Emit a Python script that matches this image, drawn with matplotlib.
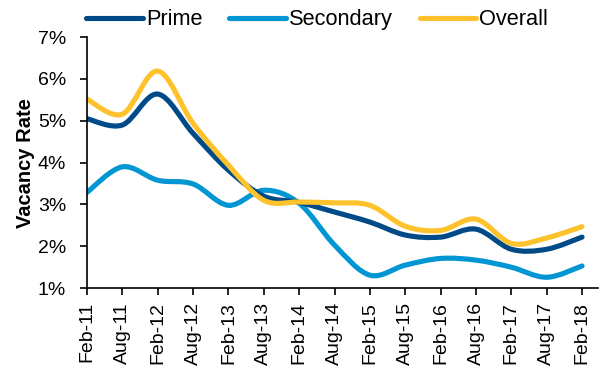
import numpy as np
import matplotlib
matplotlib.use("Agg")
import matplotlib.pyplot as plt
from matplotlib.path import Path
from matplotlib.patches import PathPatch
from matplotlib.lines import Line2D
from matplotlib.ticker import FuncFormatter

plt.rcParams["font.family"] = ["Liberation Sans", "DejaVu Sans"]

periods = ["Feb-11", "Aug-11", "Feb-12", "Aug-12", "Feb-13", "Aug-13", "Feb-14",
           "Aug-14", "Feb-15", "Aug-15", "Feb-16", "Aug-16", "Feb-17", "Aug-17",
           "Feb-18"]
prime = [5.05, 4.90, 5.64, 4.70, 3.82, 3.20, 3.05, 2.82, 2.58, 2.27, 2.22, 2.41,
         1.93, 1.93, 2.22]
secondary = [3.29, 3.90, 3.58, 3.49, 2.98, 3.34, 3.03, 2.03, 1.31, 1.55, 1.71, 1.67,
             1.50, 1.26, 1.53]
overall = [5.52, 5.16, 6.19, 4.94, 3.94, 3.10, 3.06, 3.04, 2.98, 2.48, 2.38, 2.65,
           2.07, 2.20, 2.47]

C_PRIME = "#004a87"
C_SEC = "#0095d3"
C_ALL = "#fec22d"


def smooth_path(x, y):
    # cubic bezier through every point, Excel-style smoothed line
    p = np.column_stack([x, y]).astype(float)
    n = len(p)
    verts = [p[0]]
    codes = [Path.MOVETO]
    for i in range(n - 1):
        p0 = p[i - 1] if i > 0 else p[i]
        p3 = p[i + 2] if i + 2 < n else p[i + 1]
        c1 = p[i] + (p[i + 1] - p0) / 6
        c2 = p[i + 1] - (p3 - p[i]) / 6
        verts += [c1, c2, p[i + 1]]
        codes += [Path.CURVE4] * 3
    return Path(verts, codes)


fig = plt.figure(figsize=(6.04, 3.68), dpi=100)
ax = fig.add_axes([0.144, 0.217, 0.846, 0.682])

x = np.arange(len(periods))
for vals, col in [(secondary, C_SEC), (prime, C_PRIME), (overall, C_ALL)]:
    ax.add_patch(PathPatch(smooth_path(x, vals), fill=False, edgecolor=col,
                           lw=3.7, capstyle="round", joinstyle="round"))

ax.set_xlim(0, 14.45)
ax.set_ylim(1, 7)
ax.set_yticks(range(1, 8))
ax.yaxis.set_major_formatter(FuncFormatter(lambda v, _: f"{v:.0f}%"))
ax.set_xticks(x)
ax.set_xticklabels(periods, rotation=90)
ax.tick_params(labelsize=14, length=5, width=1.2, color="black")
ax.tick_params(axis="y", pad=10)
ax.tick_params(axis="x", pad=5)
for s in ["top", "right"]:
    ax.spines[s].set_visible(False)
for s in ["left", "bottom"]:
    ax.spines[s].set_linewidth(1.2)
ax.set_ylabel("Vacancy Rate", fontsize=14.5, fontweight="bold", labelpad=2)

handles = [Line2D([], [], color=c, lw=3.7, solid_capstyle="round")
           for c in (C_PRIME, C_SEC, C_ALL)]
fig.legend(handles, ["Prime", "Secondary", "Overall"], loc="center",
           bbox_to_anchor=(0.525, 0.946), ncol=3, frameon=False, fontsize=15.7,
           handlelength=2.6, handletextpad=0.12, columnspacing=1.24,
           borderpad=0, borderaxespad=0)

fig.savefig("out.png", dpi=100)
